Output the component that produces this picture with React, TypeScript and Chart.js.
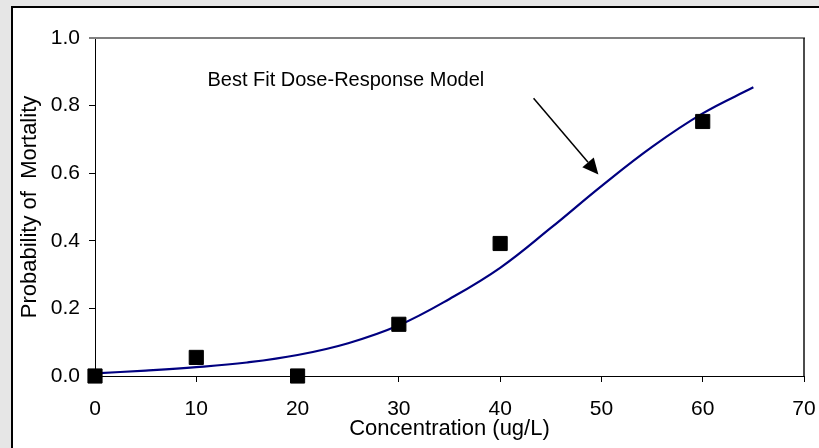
import { useEffect, useRef } from "react";
import { Chart, registerables } from "chart.js";

Chart.register(...registerables);

// ---- data ----
const observedDose = [0, 10, 20, 30, 40, 60];
const observedMortality = [0, 0.055, 0, 0.153, 0.392, 0.753];

const modelDose = [0, 5, 10, 15, 20, 25, 30, 35, 40, 45, 50, 55, 60, 65];
const modelMortality = [0.008, 0.016, 0.026, 0.04, 0.062, 0.097, 0.15, 0.228, 0.32, 0.438, 0.562, 0.678, 0.777, 0.854];

const xTicks = [0, 10, 20, 30, 40, 50, 60, 70];
const yTicks = [0, 0.2, 0.4, 0.6, 0.8, 1.0];

const xTitle = "Concentration (ug/L)";
const yTitle = "Probability of  Mortality";

const annotationText = "Best Fit Dose-Response Model";
const annotationAt = [11.1, 0.857];
const arrowFrom = [43.3, 0.822];
const arrowTo = [49.7, 0.596];

const FONT = "'Liberation Sans', Arial, sans-serif";

const framePlugin = {
  id: "frameAndNote",
  afterDraw(chart: any) {
    const { ctx, chartArea, scales } = chart;
    const xs = scales.x;
    const ys = scales.y;
    ctx.save();
    // plot-area border: grey top, dark right
    ctx.strokeStyle = "#808080";
    ctx.lineWidth = 2;
    ctx.beginPath();
    ctx.moveTo(chartArea.left - 6, chartArea.top);
    ctx.lineTo(chartArea.right + 1, chartArea.top);
    ctx.stroke();
    ctx.strokeStyle = "#111";
    ctx.lineWidth = 1.5;
    ctx.beginPath();
    ctx.moveTo(chartArea.right, chartArea.top);
    ctx.lineTo(chartArea.right, chartArea.bottom);
    ctx.stroke();

    // annotation text
    ctx.fillStyle = "#000";
    ctx.font = `20px ${FONT}`;
    ctx.textAlign = "left";
    ctx.textBaseline = "alphabetic";
    ctx.fillText(annotationText, xs.getPixelForValue(annotationAt[0]), ys.getPixelForValue(annotationAt[1]));

    // arrow
    const x1 = xs.getPixelForValue(arrowFrom[0]);
    const y1 = ys.getPixelForValue(arrowFrom[1]);
    const x2 = xs.getPixelForValue(arrowTo[0]);
    const y2 = ys.getPixelForValue(arrowTo[1]);
    const ang = Math.atan2(y2 - y1, x2 - x1);
    const headLen = 16;
    const headHalf = 7.5;
    const bx = x2 - headLen * Math.cos(ang);
    const by = y2 - headLen * Math.sin(ang);
    ctx.strokeStyle = "#000";
    ctx.lineWidth = 1.5;
    ctx.beginPath();
    ctx.moveTo(x1, y1);
    ctx.lineTo(bx, by);
    ctx.stroke();
    ctx.beginPath();
    ctx.moveTo(x2, y2);
    ctx.lineTo(bx + headHalf * Math.sin(ang), by - headHalf * Math.cos(ang));
    ctx.lineTo(bx - headHalf * Math.sin(ang), by + headHalf * Math.cos(ang));
    ctx.closePath();
    ctx.fillStyle = "#000";
    ctx.fill();
    ctx.restore();
  },
};

export default function App() {
  const ref = useRef<HTMLCanvasElement | null>(null);

  useEffect(() => {
    if (!ref.current) return;
    const chart = new Chart(ref.current, {
      type: "scatter",
      data: {
        datasets: [
          {
            label: "Model",
            data: modelDose.map((d, i) => ({ x: d, y: modelMortality[i] })),
            showLine: true,
            borderColor: "#000080",
            borderWidth: 2.2,
            pointRadius: 0,
            tension: 0.4,
            fill: false,
            order: 2,
          },
          {
            label: "Observed",
            data: observedDose.map((d, i) => ({ x: d, y: observedMortality[i] })),
            showLine: false,
            pointStyle: "rect",
            pointRadius: 10,
            pointBackgroundColor: "#000",
            pointBorderColor: "#000",
            pointBorderWidth: 1,
            clip: false,
            order: 1,
          },
        ],
      },
      options: {
        animation: false,
        responsive: false,
        devicePixelRatio: 1,
        layout: { padding: { left: 0, top: 38, right: 15, bottom: 0 } },
        plugins: { legend: { display: false }, tooltip: { enabled: false } },
        scales: {
          x: {
            type: "linear",
            min: 0,
            max: 70,
            afterBuildTicks: (s: any) => {
              s.ticks = xTicks.map((v) => ({ value: v }));
            },
            afterFit: (s: any) => {
              s.height = 72;
              s.paddingLeft = 0;
              s.paddingRight = 0;
            },
            ticks: {
              color: "#000",
              font: { family: FONT, size: 21 },
              padding: 15,
              maxRotation: 0,
              callback: (v: any) => String(v),
            },
            grid: { drawOnChartArea: false, tickLength: 6, color: "#000", lineWidth: 1 },
            border: { color: "#000", width: 1 },
            title: {
              display: true,
              text: xTitle,
              color: "#000",
              font: { family: FONT, size: 22 },
              padding: { top: 0, bottom: 6 },
            },
          },
          y: {
            type: "linear",
            min: 0,
            max: 1,
            afterBuildTicks: (s: any) => {
              s.ticks = yTicks.map((v) => ({ value: v }));
            },
            afterFit: (s: any) => {
              s.width = 95;
            },
            ticks: {
              color: "#000",
              font: { family: FONT, size: 21 },
              padding: 9,
              callback: (v: any) => Number(v).toFixed(1),
            },
            grid: { drawOnChartArea: false, tickLength: 6, color: "#000", lineWidth: 1 },
            border: { color: "#000", width: 1 },
            title: {
              display: true,
              text: yTitle,
              color: "#000",
              font: { family: FONT, size: 22 },
              padding: { top: 17, bottom: 0 },
            },
          },
        },
      },
      plugins: [framePlugin],
    } as any);
    return () => chart.destroy();
  }, []);

  return (
    <div
      style={{
        position: "fixed",
        left: 0,
        top: 0,
        width: 819,
        height: 448,
        background: "#e6e6e6",
        overflow: "hidden",
      }}
    >
      <div
        style={{
          position: "absolute",
          left: 11,
          top: 6,
          width: 820,
          height: 460,
          background: "#fff",
          borderLeft: "2px solid #000",
          borderTop: "2px solid #000",
        }}
      />
      <canvas
        ref={ref}
        width={819}
        height={448}
        style={{ position: "absolute", left: 0, top: 0, width: 819, height: 448, display: "block" }}
      />
    </div>
  );
}
